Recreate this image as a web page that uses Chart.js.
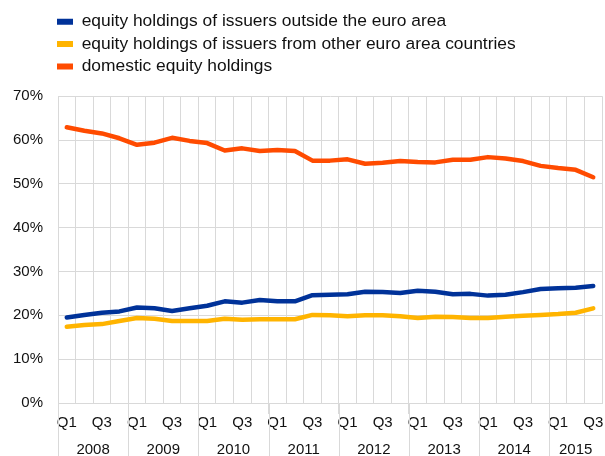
<!DOCTYPE html>
<html>
<head>
<meta charset="utf-8">
<script src="https://cdn.jsdelivr.net/npm/chart.js@4/dist/chart.umd.min.js"></script>
<style>
  html, body { margin: 0; padding: 0; background: #fff; }
  #wrap { width: 605px; height: 456px; }
</style>
</head>
<body>
<div id="wrap"><canvas id="myChart" width="605" height="456"></canvas></div>
<script>
// quarters 2008 Q1 .. 2015 Q3
var years = ["2008", "2009", "2010", "2011", "2012", "2013", "2014", "2015"];
var quarters = [];
years.forEach(function (y) {
  ["Q1", "Q2", "Q3", "Q4"].forEach(function (q) { quarters.push(q); });
});
quarters = quarters.slice(0, 31);

var outsideEuro = [19.5, 20.1, 20.6, 20.9, 21.8, 21.6, 21.0, 21.6, 22.2, 23.2, 22.9, 23.5, 23.2, 23.2, 24.6, 24.7,
  24.8, 25.4, 25.3, 25.1, 25.6, 25.4, 24.8, 24.9, 24.5, 24.7, 25.3, 26.0, 26.2, 26.3, 26.7];
var otherEuro = [17.4, 17.8, 18.0, 18.7, 19.4, 19.2, 18.7, 18.7, 18.7, 19.2, 19.0, 19.1, 19.1, 19.1, 20.1, 20.0,
  19.8, 20.0, 20.0, 19.8, 19.4, 19.7, 19.6, 19.4, 19.4, 19.7, 19.9, 20.1, 20.3, 20.6, 21.6];
var domestic = [62.9, 62.1, 61.5, 60.4, 58.9, 59.4, 60.5, 59.8, 59.3, 57.6, 58.1, 57.5, 57.7, 57.5, 55.3, 55.3,
  55.6, 54.6, 54.8, 55.2, 55.0, 54.9, 55.5, 55.5, 56.1, 55.8, 55.2, 54.1, 53.6, 53.2, 51.5];

var yTicks = [0, 10, 20, 30, 40, 50, 60, 70];

var FONT = "'Liberation Sans', Arial, sans-serif";
var GRID = "#d9d9d9";

// year row under the quarter labels, with separators
var yearAxis = {
  id: "yearAxis",
  afterDraw: function (chart) {
    var ctx = chart.ctx;
    var x = chart.scales.x;
    var half = (x.getPixelForValue(1) - x.getPixelForValue(0)) / 2;
    var top = chart.chartArea.bottom;
    ctx.save();
    ctx.strokeStyle = GRID;
    ctx.lineWidth = 1;
    ctx.fillStyle = "#111";
    ctx.font = "15px " + FONT;
    ctx.textAlign = "center";
    ctx.textBaseline = "middle";
    years.forEach(function (y, k) {
      var first = k * 4;
      var last = Math.min(first + 3, quarters.length - 1);
      var xs = Math.round(x.getPixelForValue(first) - half) + 0.5;
      ctx.beginPath();
      ctx.moveTo(xs, top);
      ctx.lineTo(xs, chart.height);
      ctx.stroke();
      ctx.fillText(y, (x.getPixelForValue(first) + x.getPixelForValue(last)) / 2, top + 47);
    });
    ctx.restore();
  }
};

// legend sits left-aligned with the plot, with extra space below it
var legendPlace = {
  id: "legendPlace",
  beforeInit: function (chart) {
    var fit = chart.legend.fit;
    chart.legend.fit = function () {
      fit.bind(chart.legend)();
      this.height += 11;
    };
  },
  afterLayout: function (chart) {
    chart.legend.left = 52;
  }
};

var ctx = document.getElementById("myChart").getContext("2d");
var chart = new Chart(ctx, {
  type: "line",
  data: {
    labels: quarters,
    datasets: [
      {
        label: "equity holdings of issuers outside the euro area",
        data: outsideEuro,
        borderColor: "#003299",
        backgroundColor: "#003299"
      },
      {
        label: "equity holdings of issuers from other euro area countries",
        data: otherEuro,
        borderColor: "#ffb400",
        backgroundColor: "#ffb400"
      },
      {
        label: "domestic equity holdings",
        data: domestic,
        borderColor: "#ff4b00",
        backgroundColor: "#ff4b00"
      }
    ]
  },
  options: {
    responsive: false,
    animation: false,
    devicePixelRatio: 1,
    layout: { padding: { left: 13, right: 3, top: 8, bottom: 0 } },
    elements: {
      line: { borderWidth: 4.5, tension: 0, borderJoinStyle: "round", borderCapStyle: "round" },
      point: { radius: 0 }
    },
    plugins: {
      tooltip: { enabled: false },
      legend: {
        position: "top",
        align: "start",
        labels: {
          boxWidth: 16,
          boxHeight: 6,
          padding: 5,
          color: "#111",
          font: { family: FONT, size: 17.4 },
          generateLabels: function (chart) {
            return Chart.defaults.plugins.legend.labels.generateLabels(chart).map(function (l) {
              l.lineWidth = 0;
              return l;
            });
          }
        }
      }
    },
    scales: {
      x: {
        offset: true,
        grid: {
          color: GRID,
          offset: true,
          tickLength: 11,
          tickColor: function (c) { return c.index % 4 === 0 ? GRID : "rgba(0,0,0,0)"; }
        },
        border: { color: GRID },
        ticks: {
          autoSkip: false,
          maxRotation: 0,
          padding: 0,
          color: "#111",
          font: { family: FONT, size: 15 },
          callback: function (v, i) {
            var q = quarters[i];
            return q === "Q1" || q === "Q3" ? q : "";
          }
        },
        afterFit: function (s) { s.height = 53; }
      },
      y: {
        min: 0,
        max: 70,
        afterBuildTicks: function (s) {
          s.ticks = yTicks.map(function (v) { return { value: v }; });
        },
        afterFit: function (s) { s.width = 45; },
        grid: { color: GRID, drawTicks: false },
        border: { color: GRID },
        ticks: {
          padding: 15,
          color: "#111",
          font: { family: FONT, size: 15 },
          callback: function (v) { return v + "%"; }
        }
      }
    }
  },
  plugins: [yearAxis, legendPlace]
});
</script>
</body>
</html>
